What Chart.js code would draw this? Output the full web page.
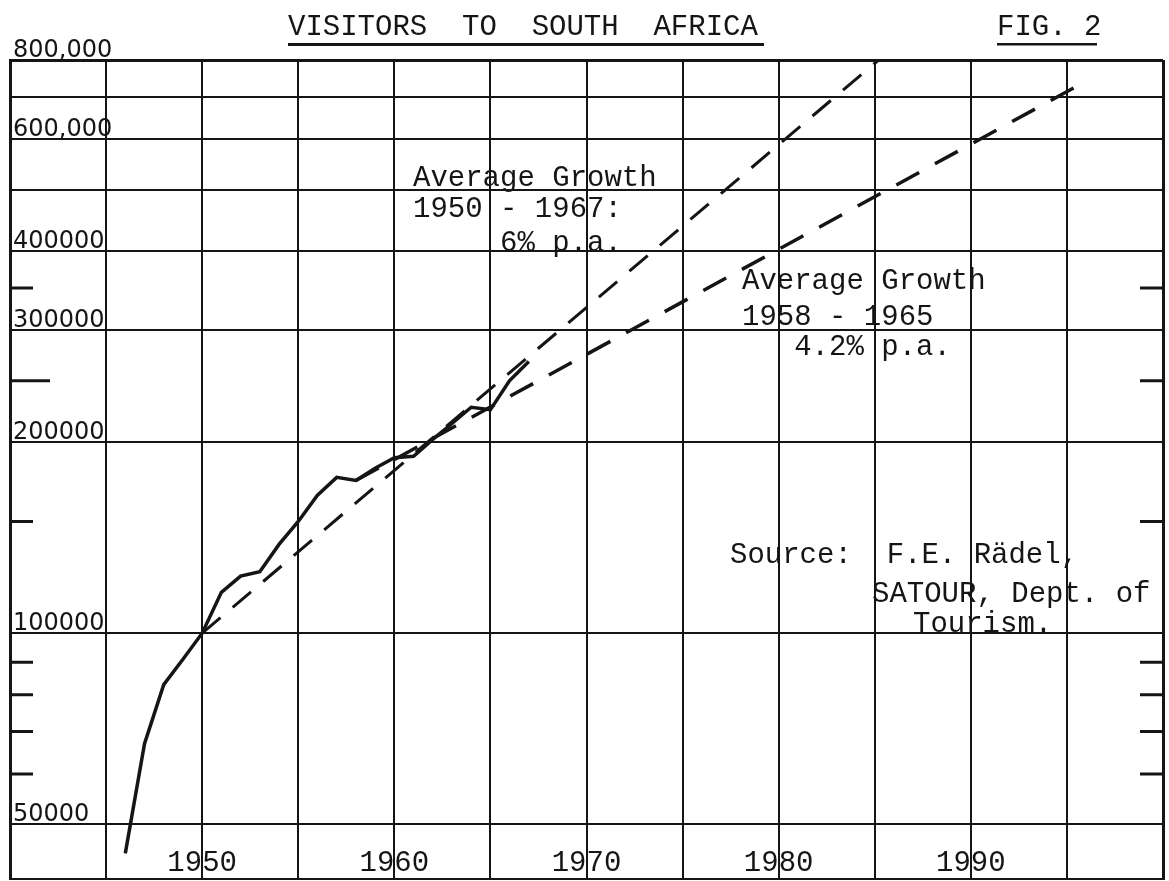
<!DOCTYPE html>
<html>
<head>
<meta charset="utf-8">
<script src="https://cdn.jsdelivr.net/npm/chart.js@4.4.1/dist/chart.umd.min.js"></script>
<style>
  html, body { margin: 0; padding: 0; background: #fff; }
</style>
</head>
<body>
<canvas id="myChart" width="1169" height="881"></canvas>
<script>
// visitors per year
const years = [1946, 1947, 1948, 1949, 1950, 1951, 1952, 1953, 1954, 1955, 1956,
  1957, 1958, 1959, 1960, 1961, 1962, 1963, 1964, 1965, 1966, 1967];
const visitors = [45000, 67000, 83000, 91000, 100000, 116000, 123000, 125000, 138000, 150000, 165000,
  176000, 174000, 182000, 189000, 190000, 202000, 214000, 227000, 225000, 250000, 268000];

// trend lines (end points)
const trendAYears = [1950, 1985.2];
const trendAValues = [100000, 800000];
const trendBYears = [1958, 1995.5];
const trendBValues = [174000, 727000];

// axes
const xTickYears = [1940, 1945, 1950, 1955, 1960, 1965, 1970, 1975, 1980, 1985, 1990, 1995, 2000];
const xLabelYears = [1950, 1960, 1970, 1980, 1990];
const yMajorValues = [50000, 100000, 200000, 300000, 400000, 500000, 600000, 700000, 800000];
const yMajorLabels = ['50000', '100000', '200000', '300000', '400000', '', '600,000', '', '800,000'];
const yMinorValues = [60000, 70000, 80000, 90000, 150000, 250000, 350000];

const ink = '#151515';
const typeFont = '29px "Liberation Mono", "DejaVu Sans Mono", monospace';
const handFont = '24px "DejaVu Sans", sans-serif';

const toPoints = (xs, ys) => xs.map((x, i) => ({ x: x, y: ys[i] }));

// short edge ticks, axis labels inside the frame, typed text
const paperPlugin = {
  id: 'paper',
  afterDraw(chart) {
    const ctx = chart.ctx;
    const xScale = chart.scales.x;
    const yScale = chart.scales.y;
    const { left, right, bottom } = chart.chartArea;

    ctx.save();
    ctx.strokeStyle = ink;
    ctx.lineWidth = 3;
    ctx.beginPath();
    yMinorValues.forEach(v => {
      const py = yScale.getPixelForValue(v);
      const len = v === 250000 ? 40 : 23;
      ctx.moveTo(left, py);
      ctx.lineTo(left + len, py);
      ctx.moveTo(right - 23, py);
      ctx.lineTo(right, py);
    });
    ctx.stroke();

    ctx.fillStyle = ink;
    ctx.textBaseline = 'alphabetic';

    // y labels sit on their grid lines
    ctx.font = handFont;
    ctx.textAlign = 'left';
    yMajorValues.forEach((v, i) => {
      if (yMajorLabels[i]) {
        ctx.fillText(yMajorLabels[i], left + 3, yScale.getPixelForValue(v) - 3);
      }
    });

    ctx.font = typeFont;
    ctx.textAlign = 'center';
    xLabelYears.forEach(yr => {
      ctx.fillText(String(yr), xScale.getPixelForValue(yr), bottom - 8);
    });

    ctx.textAlign = 'left';
    // title
    ctx.fillText('VISITORS  TO  SOUTH  AFRICA', 288, 35);
    ctx.fillRect(288, 43, 476, 3);
    ctx.fillText('FIG. 2', 997, 35);
    ctx.fillRect(997, 43, 100, 2.5);

    // notes
    ctx.fillText('Average Growth', 413, 186);
    ctx.fillText('1950 - 1967:', 413, 217);
    ctx.fillText('     6% p.a.', 413, 251);

    ctx.fillText('Average Growth', 742, 289);
    ctx.fillText('1958 - 1965', 742, 325);
    ctx.fillText('   4.2% p.a.', 742, 355);

    ctx.fillText('Source:  F.E. Rädel,', 730, 563);
    ctx.fillText('SATOUR, Dept. of', 872, 602);
    ctx.fillText('Tourism.', 913, 632);
    ctx.restore();
  }
};

const ctx = document.getElementById('myChart').getContext('2d');
const myChart = new Chart(ctx, {
  type: 'line',
  data: {
    datasets: [{
      label: 'Visitors',
      data: toPoints(years, visitors),
      borderColor: ink,
      borderWidth: 3.5,
      pointRadius: 0,
      tension: 0
    }, {
      label: 'Average Growth 1950 - 1967',
      data: toPoints(trendAYears, trendAValues),
      borderColor: ink,
      borderWidth: 3,
      borderDash: [24, 16],
      pointRadius: 0
    }, {
      label: 'Average Growth 1958 - 1965',
      data: toPoints(trendBYears, trendBValues),
      borderColor: ink,
      borderWidth: 3.5,
      borderDash: [26, 18],
      pointRadius: 0
    }]
  },
  options: {
    responsive: false,
    animation: false,
    devicePixelRatio: 1,
    layout: { autoPadding: false, padding: { top: 60, left: 10, right: 6, bottom: 2 } },
    plugins: {
      legend: { display: false },
      tooltip: { enabled: false }
    },
    scales: {
      x: {
        type: 'linear',
        min: 1940,
        max: 2000,
        afterBuildTicks: scale => {
          scale.ticks = xTickYears.map(v => ({ value: v }));
        },
        grid: {
          color: ink,
          lineWidth: c => (c.tick && (c.tick.value === 1940 || c.tick.value === 2000)) ? 3 : 2,
          drawTicks: false
        },
        border: { display: true, color: ink, width: 2 },
        ticks: { display: false }
      },
      y: {
        type: 'logarithmic',
        min: 41000,
        max: 800000,
        afterBuildTicks: scale => {
          scale.ticks = yMajorValues.map(v => ({ value: v }));
        },
        grid: {
          color: ink,
          lineWidth: c => (c.tick && c.tick.value === 800000) ? 3 : 2,
          drawTicks: false
        },
        border: { display: true, color: ink, width: 3 },
        ticks: { display: false }
      }
    }
  },
  plugins: [paperPlugin]
});
</script>
</body>
</html>
